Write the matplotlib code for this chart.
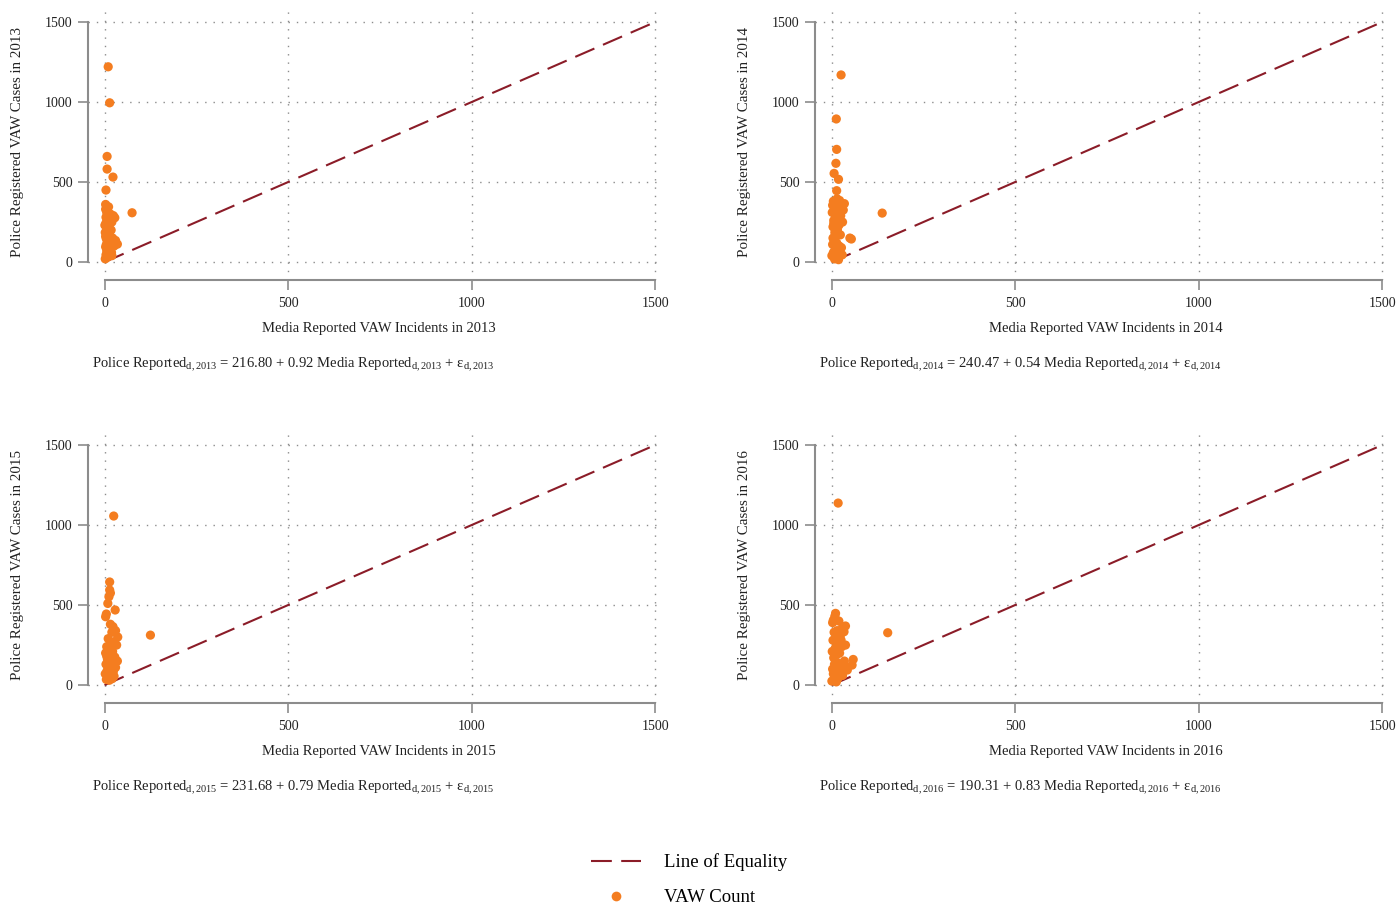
import numpy as np
import matplotlib.pyplot as plt
from matplotlib.lines import Line2D

plt.rcParams['font.family'] = ['Liberation Serif', 'DejaVu Serif']
plt.rcParams['mathtext.fontset'] = 'custom'
plt.rcParams['mathtext.rm'] = 'Liberation Serif'
plt.rcParams['mathtext.it'] = 'Liberation Serif:italic'

years = [2013, 2014, 2015, 2016]

# media reported (x) and police registered (y) per district
x13 = [10, 14, 7, 7, 23, 4, 3, 75, 28, 35,
       2, 4, 6, 3, 8, 5, 10, 2, 7, 12,
       4, 9, 14, 6, 3, 11, 16, 20, 18, 22,
       25, 15, 12, 20, 8, 5, 1, 13, 17, 9,
       26, 30, 19, 3, 10, 6, 24, 4]
y13 = [1220, 995, 660, 581, 531, 450, 360, 308, 277, 112,
       20, 45, 70, 95, 120, 145, 165, 185, 205, 225,
       245, 265, 290, 310, 330, 345, 300, 250, 200, 150,
       125, 90, 60, 40, 30, 110, 230, 180, 140, 80,
       100, 135, 60, 160, 270, 200, 290, 280]

x14 = [26, 13, 14, 12, 7, 19, 14, 138, 54, 50,
       32, 5, 10, 3, 15, 22, 28, 8, 2, 18,
       25, 12, 6, 30, 20, 4, 16, 9, 24, 11,
       7, 14, 3, 21, 27, 10, 5, 17, 1, 13,
       8, 19, 35, 23, 6, 4, 29, 15]
y14 = [1169, 894, 704, 617, 554, 517, 446, 306, 144, 150,
       325, 380, 370, 355, 395, 385, 360, 340, 310, 320,
       290, 280, 260, 250, 230, 220, 200, 185, 170, 160,
       140, 120, 110, 100, 90, 75, 60, 50, 40, 30,
       20, 15, 365, 80, 240, 150, 45, 65]

x15 = [25, 14, 14, 12, 9, 29, 5, 3, 125, 23,
       16, 30, 36, 20, 10, 26, 33, 6, 12, 22,
       3, 18, 28, 8, 15, 24, 4, 11, 30, 20,
       7, 14, 2, 17, 26, 9, 5, 21, 13, 8,
       19, 35, 6, 24, 16]
y15 = [1056, 644, 594, 552, 510, 469, 444, 427, 312, 365,
       380, 340, 300, 330, 290, 270, 250, 240, 230, 210,
       200, 190, 175, 160, 150, 140, 130, 120, 110, 100,
       90, 80, 70, 60, 55, 45, 35, 40, 30, 220,
       260, 150, 180, 85, 575]

x16 = [18, 11, 5, 38, 34, 153, 59, 56, 38, 26,
       43, 9, 3, 20, 30, 15, 7, 24, 12, 4,
       18, 28, 10, 2, 22, 14, 6, 35, 16, 8,
       25, 3, 12, 20, 5, 30, 9, 17, 1, 13,
       40, 27]
y16 = [1137, 448, 406, 369, 333, 327, 160, 125, 250, 281,
       94, 430, 390, 400, 360, 340, 330, 310, 300, 280,
       260, 240, 230, 210, 200, 190, 170, 150, 140, 130,
       115, 100, 90, 80, 70, 60, 50, 40, 25, 20,
       110, 70]

intercepts = ["216.80", "240.47", "231.68", "190.31"]
slopes = ["0.92", "0.54", "0.79", "0.83"]

xs = [x13, x14, x15, x16]
ys = [y13, y14, y15, y16]

orange = '#f47d20'
maroon = '#8b1c28'
grey = '#8c8c8c'
txt = '#222222'
ticks = [0, 500, 1000, 1500]

fig = plt.figure(figsize=(14, 9.1), dpi=100)

# axes boxes in pixels: left, top, right, bottom
boxes = [(88, 5, 659, 280), (815, 5, 1386, 280),
         (88, 428, 659, 703), (815, 428, 1386, 703)]

for i, yr in enumerate(years):
    l, t, r, b = boxes[i]
    ax = fig.add_axes([l / 1400, (910 - b) / 910, (r - l) / 1400, (b - t) / 910])
    ax.set_xlim(-45, 1510)
    ax.set_ylim(-112, 1606)

    for v in ticks:
        ax.axhline(v, color=grey, lw=1, ls=(0, (1, 5)), zorder=0)
        ax.axvline(v, color=grey, lw=1, ls=(0, (1, 5)), zorder=0)

    ax.plot([0, 1500], [0, 1500], color=maroon, lw=1.5, dashes=(10, 4.5), zorder=2)
    ax.scatter(xs[i], ys[i], s=44, color=orange, edgecolors='none', zorder=3)

    for s in ['top', 'right']:
        ax.spines[s].set_visible(False)
    for s in ['left', 'bottom']:
        ax.spines[s].set_color(grey)
        ax.spines[s].set_linewidth(1.5)
        ax.spines[s].set_bounds(0, 1500)
    ax.set_xticks(ticks)
    ax.set_yticks(ticks)
    ax.tick_params(length=7, width=1.2, color=grey, labelsize=10, pad=4,
                   labelcolor=txt)
    ax.tick_params(axis='x', pad=5)

    ax.set_ylabel("Police Registered VAW Cases in %d" % yr, fontsize=10.8, color=txt)
    ax.yaxis.set_label_coords(-0.112, 0.502)
    ax.set_xlabel("Media Reported VAW Incidents in %d" % yr, fontsize=10.5, color=txt,
                  va='top')
    ax.xaxis.set_label_coords(0.51, -0.152)

    # regression equation under each panel
    sub = r"$_{\mathrm{d,%d}}$" % yr
    eq = ("Police Reported" + sub + " = " + intercepts[i] + " + " + slopes[i] +
          " Media Reported" + sub + " + ε" + sub)
    ax.text(4 / (r - l), -85 / (b - t), eq, transform=ax.transAxes,
            fontsize=10.5, va='center', ha='left', color=txt)

handles = [Line2D([], [], color=maroon, lw=1.5, dashes=(10, 4.5)),
           Line2D([], [], color=orange, marker='o', ls='none', markersize=7,
                  markeredgecolor='none')]
fig.legend(handles, ["Line of Equality", "VAW Count"], loc='center',
           bbox_to_anchor=(0.492, 0.033), frameon=False, fontsize=13.5,
           handlelength=2.7, handletextpad=1.2, labelspacing=0.95)

fig.savefig("out.png", dpi=100)
